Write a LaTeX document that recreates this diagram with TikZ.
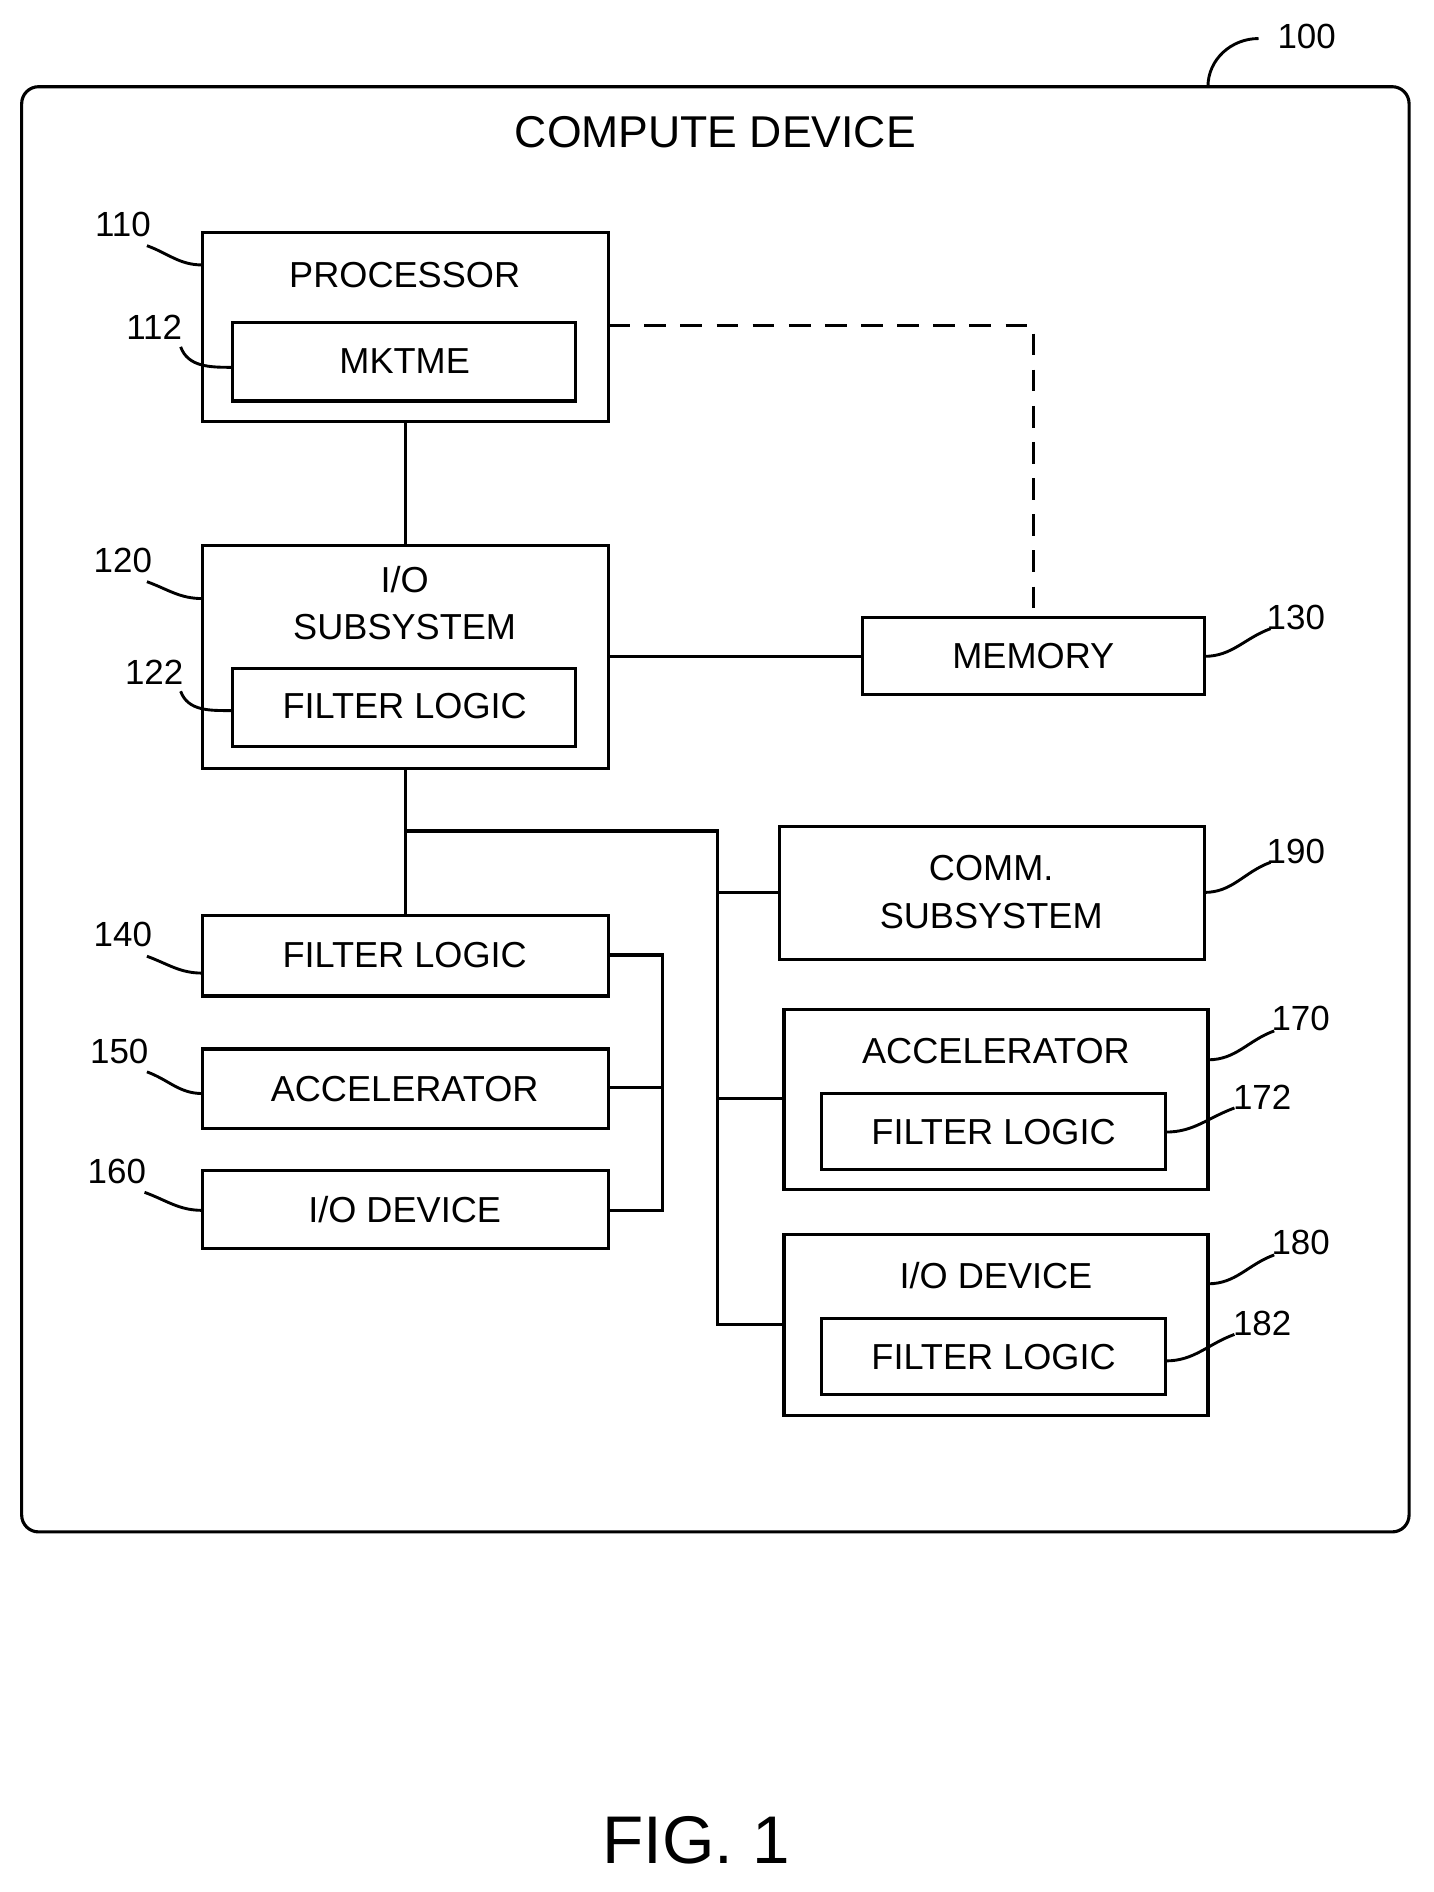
\documentclass[tikz,border=0pt]{standalone}
\usepackage{fontspec}
\setmainfont{Liberation Sans}
\begin{document}
\begin{tikzpicture}[x=1pt,y=-1pt,line width=2.6pt,
  box/.style={draw,rectangle,inner sep=0pt},
  txt/.style={font=\fontsize{30}{34}\selectfont,inner sep=0pt},
  lbl/.style={font=\fontsize{29}{32}\selectfont,inner sep=0pt},
  lead/.style={line width=2.4pt}]
\useasboundingbox (0,0) rectangle (1190,1571);
\draw[rounded corners=14pt] (18,72) rectangle (1170,1272);
\node[txt,font=\fontsize{37}{40}\selectfont] (title) at (594,110) {COMPUTE DEVICE};
% boxes
\draw (168,193) rectangle (505,350); \coordinate (proc) at (336,271);
\node[txt] (tproc) at (336,228) {PROCESSOR};
\draw (193,268) rectangle (478,333); \node[txt] (mk) at (336,300) {MKTME};
\draw (168,453) rectangle (505,638);
\node[txt] (tio1) at (336,481) {I/O};
\node[txt] (tio2) at (336,521) {SUBSYSTEM};
\draw (193,555) rectangle (478,620); \node[txt] (fl1) at (336,586) {FILTER LOGIC};
\draw (716,513) rectangle (1000,577); \node[txt] (mem) at (858,545) {MEMORY};
\draw (168,760) rectangle (505,827); \node[txt] (fl140) at (336,793) {FILTER LOGIC};
\draw (168,871) rectangle (505,937); \node[txt] (acc150) at (336,904) {ACCELERATOR};
\draw (168,972) rectangle (505,1037); \node[txt] (io160) at (336,1004) {I/O DEVICE};
\draw (647,686) rectangle (1000,797);
\node[txt] (c1) at (823,721) {COMM.}; \node[txt] (c2) at (823,761) {SUBSYSTEM};
\draw (651,838) rectangle (1003,988); \node[txt] (acc170) at (827,873) {ACCELERATOR};
\draw (682,908) rectangle (968,971); \node[txt] (fl172) at (825,940) {FILTER LOGIC};
\draw (651,1025) rectangle (1003,1175); \node[txt] (io180) at (827,1059) {I/O DEVICE};
\draw (682,1095) rectangle (968,1158); \node[txt] (fl182) at (825,1127) {FILTER LOGIC};
% connectors
\draw (337,350) -- (337,453);
\draw[dash pattern=on 18pt off 12pt] (505,270) -- (858,270) -- (858,513);
\draw (505,545) -- (716,545);
\draw (337,638) -- (337,760);
\draw (337,690) -- (596,690) -- (596,1100) -- (651,1100);
\draw (596,741) -- (647,741);
\draw (596,912) -- (651,912);
\draw (505,793) -- (550,793) -- (550,1005) -- (505,1005);
\draw (505,903) -- (550,903);
% labels
\tikzset{lnum/.style={lbl}}
\node[lbl] (n100) at (1085,30) {100};
\draw[lead] (1003,72) to[out=90,in=180] (1045,32);
\node[lbl] (n110) at (102,186) {110};
\draw[lead] (122,204) to[out=-20,in=180] (168,220);
\node[lbl] (n112) at (128,272) {112};
\draw[lead] (150,288) to[out=-70,in=180] (193,305);
\node[lbl] (n120) at (102,465) {120};
\draw[lead] (122,483) to[out=-20,in=180] (168,497);
\node[lbl] (n122) at (128,558) {122};
\draw[lead] (150,574) to[out=-70,in=180] (193,590);
\node[lbl] (n140) at (102,776) {140};
\draw[lead] (122,794) to[out=-20,in=180] (168,808);
\node[lbl] (n150) at (99,873) {150};
\draw[lead] (122,890) to[out=-20,in=180] (168,908);
\node[lbl] (n160) at (97,973) {160};
\draw[lead] (120,990) to[out=-20,in=180] (168,1005);
\node[lbl] (n130) at (1076,513) {130};
\draw[lead] (1000,545) to[out=0,in=200] (1055,522);
\node[lbl] (n190) at (1076,707) {190};
\draw[lead] (1000,741) to[out=0,in=200] (1055,716);
\node[lbl] (n170) at (1080,846) {170};
\draw[lead] (1003,880) to[out=0,in=200] (1058,856);
\node[lbl] (n172) at (1048,911) {172};
\draw[lead] (968,940) to[out=0,in=200] (1025,920);
\node[lbl] (n180) at (1080,1032) {180};
\draw[lead] (1003,1066) to[out=0,in=200] (1058,1042);
\node[lbl] (n182) at (1048,1099) {182};
\draw[lead] (968,1130) to[out=0,in=200] (1025,1108);
\node[inner sep=0pt,font=\fontsize{56}{60}\selectfont] (fig) at (578,1528) {FIG. 1};
\end{tikzpicture}
\end{document}
